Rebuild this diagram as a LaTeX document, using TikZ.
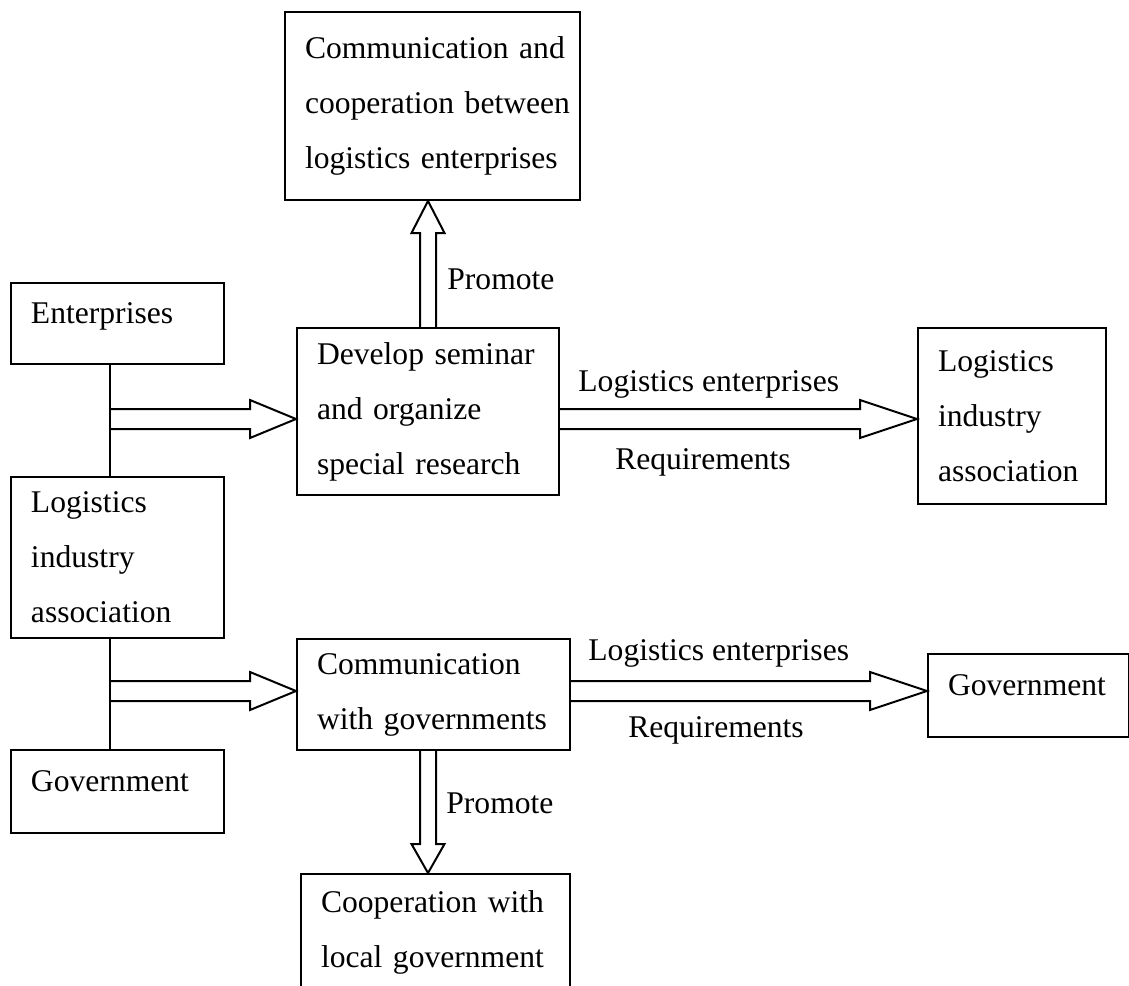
\documentclass[tikz,border=0pt]{standalone}
\usepackage{fontspec}
\setmainfont{Liberation Serif}
\usetikzlibrary{calc}
\newcommand{\diagfont}{\fontsize{15.8}{27.5}\selectfont}
\tikzset{
  box/.style={draw, line width=1pt, anchor=north west, inner xsep=10pt, inner ysep=0pt, align=left, font=\diagfont},
  oneline/.style={text depth=10pt},
  lbl/.style={inner sep=0pt, font=\diagfont},
  harrow/.style={line width=1pt, to path={
    ($(\tikztostart)+(0,-10)$) -- ($(\tikztotarget)+(-#1,-10)$) -- ($(\tikztotarget)+(-#1,-19)$)
    -- (\tikztotarget) -- ($(\tikztotarget)+(-#1,19)$) -- ($(\tikztotarget)+(-#1,10)$)
    -- ($(\tikztostart)+(0,10)$)}},
  varrow/.style={line width=1pt, to path={
    ($(\tikztostart)+(-8,0)$) -- ($(\tikztotarget)+(-8,#1)$) -- ($(\tikztotarget)+(-16.5,#1)$)
    -- (\tikztotarget) -- ($(\tikztotarget)+(16.5,#1)$) -- ($(\tikztotarget)+(8,#1)$)
    -- ($(\tikztostart)+(8,0)$)}}
}
\begin{document}
\begin{tikzpicture}[x=0.5pt, y=-0.5pt]
\useasboundingbox (0,0) rectangle (1129,985);
\clip (0,0) rectangle (1129,985);

\node[box, text width=127.5pt, minimum height=94pt] (coopent) at (284,11)
  {\mbox{Communication and}\\\mbox{cooperation between}\\\mbox{logistics enterprises}};
\node[box, oneline, text width=86.5pt, minimum height=40.5pt] (ent) at (10,282) {Enterprises};
\node[box, text width=86.5pt, minimum height=80.5pt] (lia) at (10,476) {Logistics\\industry\\association};
\node[box, oneline, text width=86.5pt, minimum height=41.5pt] (gov) at (10,749) {Government};
\node[box, text width=111pt, minimum height=83.5pt] (seminar) at (296,327)
  {\mbox{Develop seminar}\\\mbox{and organize}\\\mbox{special research}};
\node[box, text width=74pt, minimum height=88pt] (liaright) at (917,327) {Logistics\\industry\\association};
\node[box, text width=116.5pt, minimum height=55.5pt] (commgov) at (296,638)
  {Communication\\\mbox{with governments}};
\node[box, oneline, text width=80.5pt, minimum height=41.5pt] (govright) at (927,653) {Government};
\node[box, text width=114.5pt, minimum height=58.5pt] (coopgov) at (300,873)
  {\mbox{Cooperation with}\\\mbox{local government}};

\coordinate (jup) at (110,419);
\coordinate (jdown) at (110,691);

\draw[line width=1pt] (jup |- ent.south) -- (jup |- lia.north);
\draw[line width=1pt] (jdown |- lia.south) -- (jdown |- gov.north);

\draw[harrow=46] (jup) to (jup -| seminar.west);
\draw[harrow=57] (jup -| seminar.east) to (jup -| liaright.west);
\draw[harrow=46] (jdown) to (jdown -| commgov.west);
\draw[harrow=57] (jdown -| commgov.east) to (jdown -| govright.west);

\draw[varrow=32] (seminar.north) to (seminar.north |- coopent.south);
\draw[varrow=-29] (commgov.south -| seminar.north) to (coopgov.north -| seminar.north);

\node[lbl, anchor=base west] (promup) at (447,289) {Promote};
\node[lbl, anchor=base west] (entup) at (578,391) {Logistics enterprises};
\node[lbl, anchor=base] (requp) at (703,469) {Requirements};
\node[lbl, anchor=base west] (entdown) at (588,660) {Logistics enterprises};
\node[lbl, anchor=base] (reqdown) at (716,737) {Requirements};
\node[lbl, anchor=base west] (promdown) at (446,813) {Promote};
\end{tikzpicture}
\end{document}
